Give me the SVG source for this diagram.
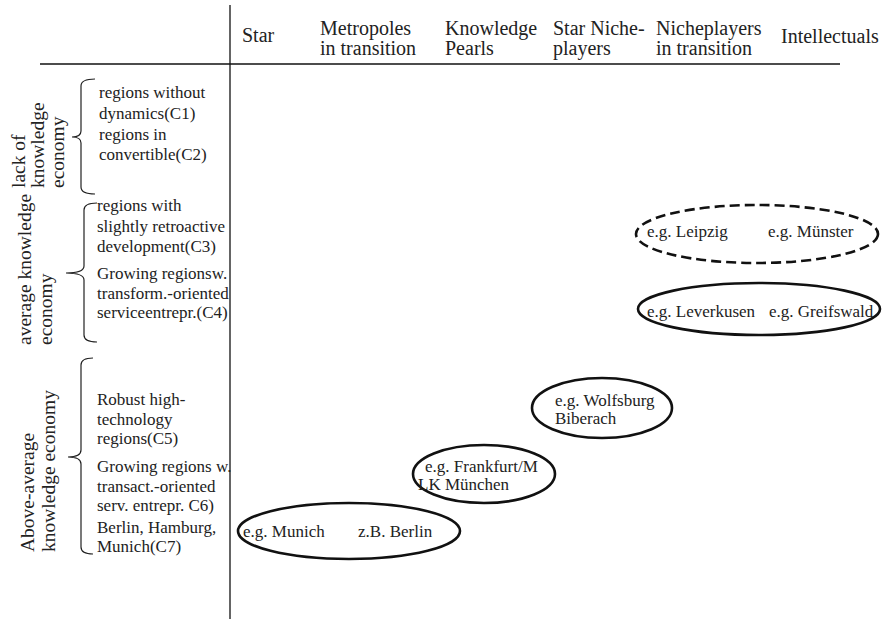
<svg xmlns="http://www.w3.org/2000/svg" width="887" height="619" viewBox="0 0 887 619">
  <style>
    .t { font-family: "Liberation Serif", "Times New Roman", serif; font-size: 17px; fill: #222; }
    .hd { font-family: "Liberation Serif", "Times New Roman", serif; font-size: 20px; fill: #222; }
    .lab { font-family: "Liberation Serif", "Times New Roman", serif; font-size: 19.5px; fill: #222; }
    .axis { stroke: #111; stroke-width: 1.3; fill: none; }
    .brace { stroke: #222; stroke-width: 1.2; fill: none; }
    .cluster { stroke: #111; stroke-width: 2.6; fill: none; }
    .dashed { stroke-dasharray: 10 5; }
  </style>
  <rect width="887" height="619" fill="#fff"/>

  <!-- axes -->
  <g id="axes">
    <line class="axis" x1="230" y1="5" x2="230" y2="619"/>
    <line class="axis" x1="40" y1="64" x2="840" y2="64"/>
  </g>

  <!-- column headers -->
  <g id="headers">
    <text class="hd" x="242" y="42">Star</text>
    <text class="hd" x="320" y="35">Metropoles</text>
    <text class="hd" x="320" y="55">in transition</text>
    <text class="hd" x="445" y="35">Knowledge</text>
    <text class="hd" x="445" y="55">Pearls</text>
    <text class="hd" x="553" y="35">Star Niche-</text>
    <text class="hd" x="553" y="55">players</text>
    <text class="hd" x="656" y="35">Nicheplayers</text>
    <text class="hd" x="656" y="55">in transition</text>
    <text class="hd" x="781" y="43">Intellectuals</text>
  </g>

  <!-- row group: lack of knowledge economy -->
  <g id="row-lack">
    <text class="lab" transform="translate(25,188) rotate(-90)">lack of</text>
    <text class="lab" transform="translate(44,188) rotate(-90)">knowledge</text>
    <text class="lab" transform="translate(64,188) rotate(-90)">economy</text>
    <path class="brace" d="M95,79 Q81,79 81,86 L81,131 Q81,137 72,137 Q81,137 81,143 L81,187 Q81,194 95,194"/>
    <text class="t" x="99" y="98">regions without</text>
    <text class="t" x="99" y="119">dynamics(C1)</text>
    <text class="t" x="99" y="140">regions in</text>
    <text class="t" x="99" y="160">convertible(C2)</text>
  </g>

  <!-- row group: average knowledge economy -->
  <g id="row-average">
    <text class="lab" transform="translate(31,345) rotate(-90)">average knowledge</text>
    <text class="lab" transform="translate(52,345) rotate(-90)">economy</text>
    <path class="brace" d="M97,203 Q84,203 84,210 L84,266 Q84,273 66,273 Q84,273 84,280 L84,335 Q84,342 97,342"/>
    <text class="t" x="97" y="211">regions with</text>
    <text class="t" x="97" y="232">slightly retroactive</text>
    <text class="t" x="97" y="252">development(C3)</text>
    <text class="t" x="97" y="279">Growing regionsw.</text>
    <text class="t" x="97" y="299">transform.-oriented</text>
    <text class="t" x="97" y="318">serviceentrepr.(C4)</text>
  </g>

  <!-- row group: above-average knowledge economy -->
  <g id="row-above">
    <text class="lab" transform="translate(34,552) rotate(-90)">Above-average</text>
    <text class="lab" transform="translate(55,552) rotate(-90)">knowledge economy</text>
    <path class="brace" d="M93,358 Q81,358 81,365 L81,450 Q81,457 68,457 Q81,457 81,464 L81,547 Q81,554 93,554"/>
    <text class="t" x="97" y="405">Robust high-</text>
    <text class="t" x="97" y="425">technology</text>
    <text class="t" x="97" y="444">regions(C5)</text>
    <text class="t" x="97" y="472">Growing regions w.</text>
    <text class="t" x="97" y="492">transact.-oriented</text>
    <text class="t" x="97" y="511">serv. entrepr. C6)</text>
    <text class="t" x="97" y="533">Berlin, Hamburg,</text>
    <text class="t" x="97" y="552">Munich(C7)</text>
  </g>

  <!-- region clusters -->
  <g id="cluster-leipzig">
    <ellipse class="cluster dashed" cx="757" cy="234" rx="121" ry="29"/>
    <text class="t" x="647" y="237">e.g. Leipzig</text>
    <text class="t" x="768" y="237">e.g. Münster</text>
  </g>
  <g id="cluster-leverkusen">
    <ellipse class="cluster" cx="759" cy="309" rx="121" ry="26"/>
    <text class="t" x="647" y="317">e.g. Leverkusen</text>
    <text class="t" x="769" y="317">e.g. Greifswald</text>
  </g>
  <g id="cluster-wolfsburg">
    <ellipse class="cluster" cx="602" cy="408" rx="70" ry="30"/>
    <text class="t" x="555" y="406">e.g. Wolfsburg</text>
    <text class="t" x="555" y="424">Biberach</text>
  </g>
  <g id="cluster-frankfurt">
    <ellipse class="cluster" cx="484" cy="474" rx="71" ry="29"/>
    <text class="t" x="425" y="472">e.g. Frankfurt/M</text>
    <text class="t" x="418" y="490">LK München</text>
  </g>
  <g id="cluster-munich">
    <ellipse class="cluster" cx="349" cy="531" rx="111" ry="28"/>
    <text class="t" x="243" y="537">e.g. Munich</text>
    <text class="t" x="358" y="537">z.B. Berlin</text>
  </g>
</svg>
